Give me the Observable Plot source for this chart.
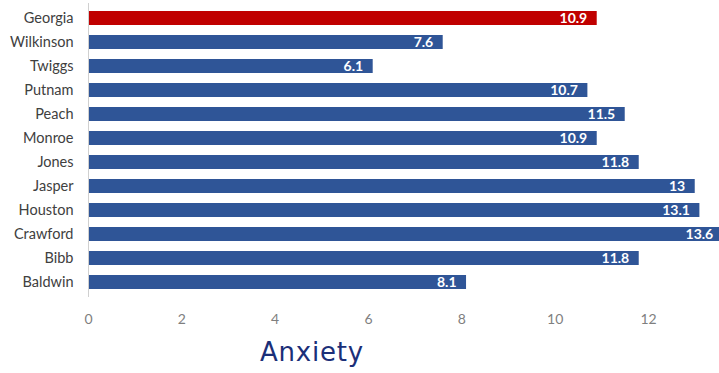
<!DOCTYPE html>
<html>
<head>
<meta charset="utf-8">
<script src="https://cdn.jsdelivr.net/npm/d3@7"></script>
<script src="https://cdn.jsdelivr.net/npm/@observablehq/plot@0.6"></script>
<style>
  html, body { margin: 0; padding: 0; background: #fff; }
  #chart svg { display: block; }
  #title {
    margin-top: 4px;
    padding-left: 260px;
    font-family: "DejaVu Sans", sans-serif;
    font-weight: 400;
    font-size: 26px;
    line-height: 30px;
    letter-spacing: 0.8px;
    color: #1b2f78;
  }
</style>
</head>
<body>
<div id="chart"></div>
<div id="title">Anxiety</div>
<script>
// Anxiety prevalence (%) by county, with the state figure on top
const areas = ["Georgia", "Wilkinson", "Twiggs", "Putnam", "Peach", "Monroe",
               "Jones", "Jasper", "Houston", "Crawford", "Bibb", "Baldwin"];
const values = [10.9, 7.6, 6.1, 10.7, 11.5, 10.9, 11.8, 13, 13.1, 13.6, 11.8, 8.1];
const xTicks = [0, 2, 4, 6, 8, 10, 12];
const stateName = "Georgia";

const rows = areas.map((area, i) => ({area, value: values[i]}));

const chart = Plot.plot({
  width: 719,
  height: 333,
  marginLeft: 88,
  marginRight: 0,
  marginTop: 3,
  marginBottom: 36,
  style: {fontFamily: "Lato, sans-serif", background: "#fff"},
  x: {domain: [0, 13.52], ticks: xTicks, label: null},
  y: {domain: areas, paddingInner: 0.4, paddingOuter: 0.2, label: null},
  marks: [
    Plot.barX(rows, {
      y: "area",
      x: "value",
      fill: d => d.area === stateName ? "#c00000" : "#2f5597"
    }),
    Plot.text(rows, {
      y: "area",
      x: "value",
      text: d => String(d.value),
      textAnchor: "end",
      dx: -10,
      fill: "white",
      fontWeight: "bold",
      fontSize: 14
    }),
    Plot.ruleX([0], {stroke: "#d0d0d0", strokeWidth: 1}),
    Plot.axisX({
      ticks: xTicks,
      tickSize: 0,
      tickPadding: 17,
      fontSize: 14,
      color: "#7f7f7f",
      label: null
    }),
    Plot.axisY({
      tickSize: 0,
      tickPadding: 15,
      fontSize: 14.5,
      color: "#404040",
      label: null
    })
  ]
});

document.getElementById("chart").appendChild(chart);
</script>
</body>
</html>
